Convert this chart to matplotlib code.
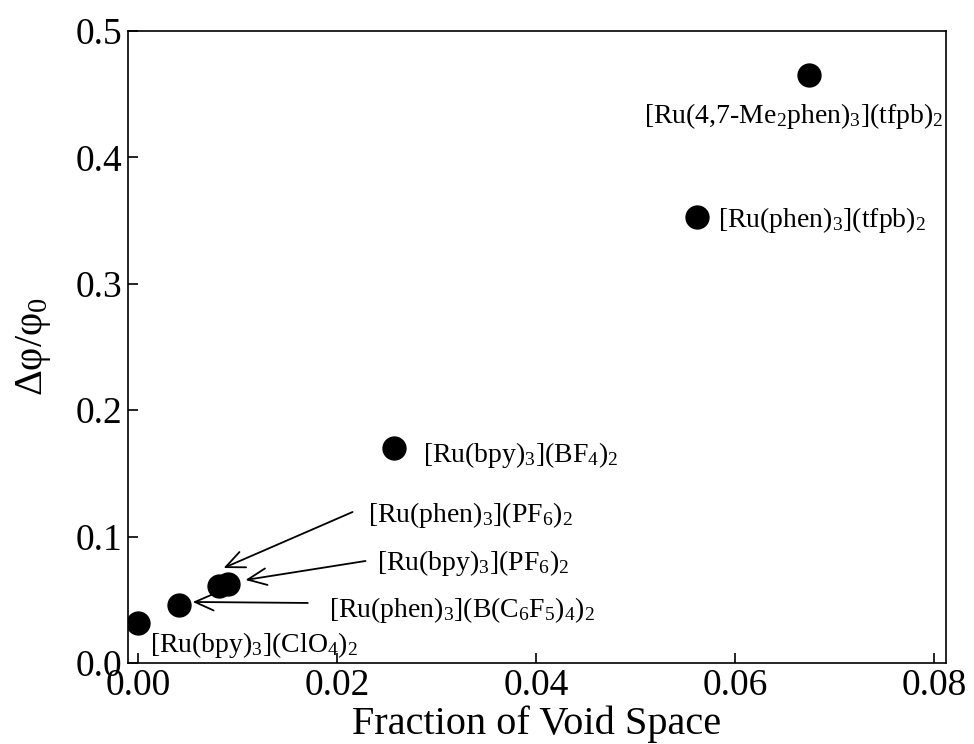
import matplotlib.pyplot as plt
from matplotlib.transforms import offset_copy

plt.rcParams['font.family'] = ['Liberation Serif', 'DejaVu Serif']
plt.rcParams['mathtext.fontset'] = 'custom'
plt.rcParams['mathtext.rm'] = 'Liberation Serif'
plt.rcParams['mathtext.it'] = 'Liberation Serif:italic'

# void fraction vs relative change in quantum yield
void_fraction = [0.0, 0.0041, 0.0081, 0.0091, 0.0257, 0.0562, 0.0674]
delta_phi = [0.0314, 0.0459, 0.0609, 0.0625, 0.170, 0.353, 0.465]
compounds = [
    r'[Ru(bpy)$_3$](ClO$_4$)$_2$',
    r'[Ru(phen)$_3$](B(C$_6$F$_5$)$_4$)$_2$',
    r'[Ru(phen)$_3$](PF$_6$)$_2$',
    r'[Ru(bpy)$_3$](PF$_6$)$_2$',
    r'[Ru(bpy)$_3$](BF$_4$)$_2$',
    r'[Ru(phen)$_3$](tfpb)$_2$',
    r'[Ru(4,7-Me$_2$phen)$_3$](tfpb)$_2$',
]

# label placement in pixels relative to each point: (text dx, text dy, ha, arrow tail, arrow tip)
placement = [
    (12, -29, 'left', None, None),
    (150, -12, 'left', (129, 2), (14, 3)),
    (149, 64, 'left', (134, 74), (5, 18)),
    (149, 14, 'left', (137, 23), (17, 4)),
    (29, -14, 'left', None, None),
    (21, -10, 'left', None, None),
    (-15, -48, 'center', None, None),
]

fig = plt.figure(figsize=(9.74, 7.44), dpi=100)
ax = fig.add_axes([0.1314, 0.1089, 0.8399, 0.8494])

ax.plot(void_fraction, delta_phi, 'o', color='black', markersize=16.5, zorder=3)

for x, y, name, (dx, dy, ha, tail, tip) in zip(void_fraction, delta_phi, compounds, placement):
    ax.text(x, y, name, fontsize=20, ha=ha, va='baseline',
            transform=offset_copy(ax.transData, fig, x=dx, y=dy, units='dots'))
    if tail is not None:
        ax.annotate('', xy=(x, y), xytext=(x, y),
                    xycoords=offset_copy(ax.transData, fig, x=tip[0], y=tip[1], units='dots'),
                    textcoords=offset_copy(ax.transData, fig, x=tail[0], y=tail[1], units='dots'),
                    arrowprops=dict(arrowstyle='->, head_length=0.45, head_width=0.2',
                                    color='black', lw=1.3,
                                    mutation_scale=30, shrinkA=0, shrinkB=0))

ax.set_xlim(-0.001, 0.0812)
ax.set_ylim(0, 0.5)
ax.set_xticks([0.0, 0.02, 0.04, 0.06, 0.08])
ax.set_xticklabels(['0.00', '0.02', '0.04', '0.06', '0.08'])
ax.set_yticks([0.0, 0.1, 0.2, 0.3, 0.4, 0.5])
ax.set_yticklabels(['0.0', '0.1', '0.2', '0.3', '0.4', '0.5'])
ax.tick_params(direction='in', length=7, width=1.2, labelsize=27,
               top=False, right=False, pad=4)
for s in ax.spines.values():
    s.set_linewidth(1.2)

ax.set_xlabel('Fraction of Void Space', fontsize=29, labelpad=2)
ax.set_ylabel('Δφ/φ$_0$', fontsize=29, labelpad=16)

fig.savefig('out.png', dpi=100)
